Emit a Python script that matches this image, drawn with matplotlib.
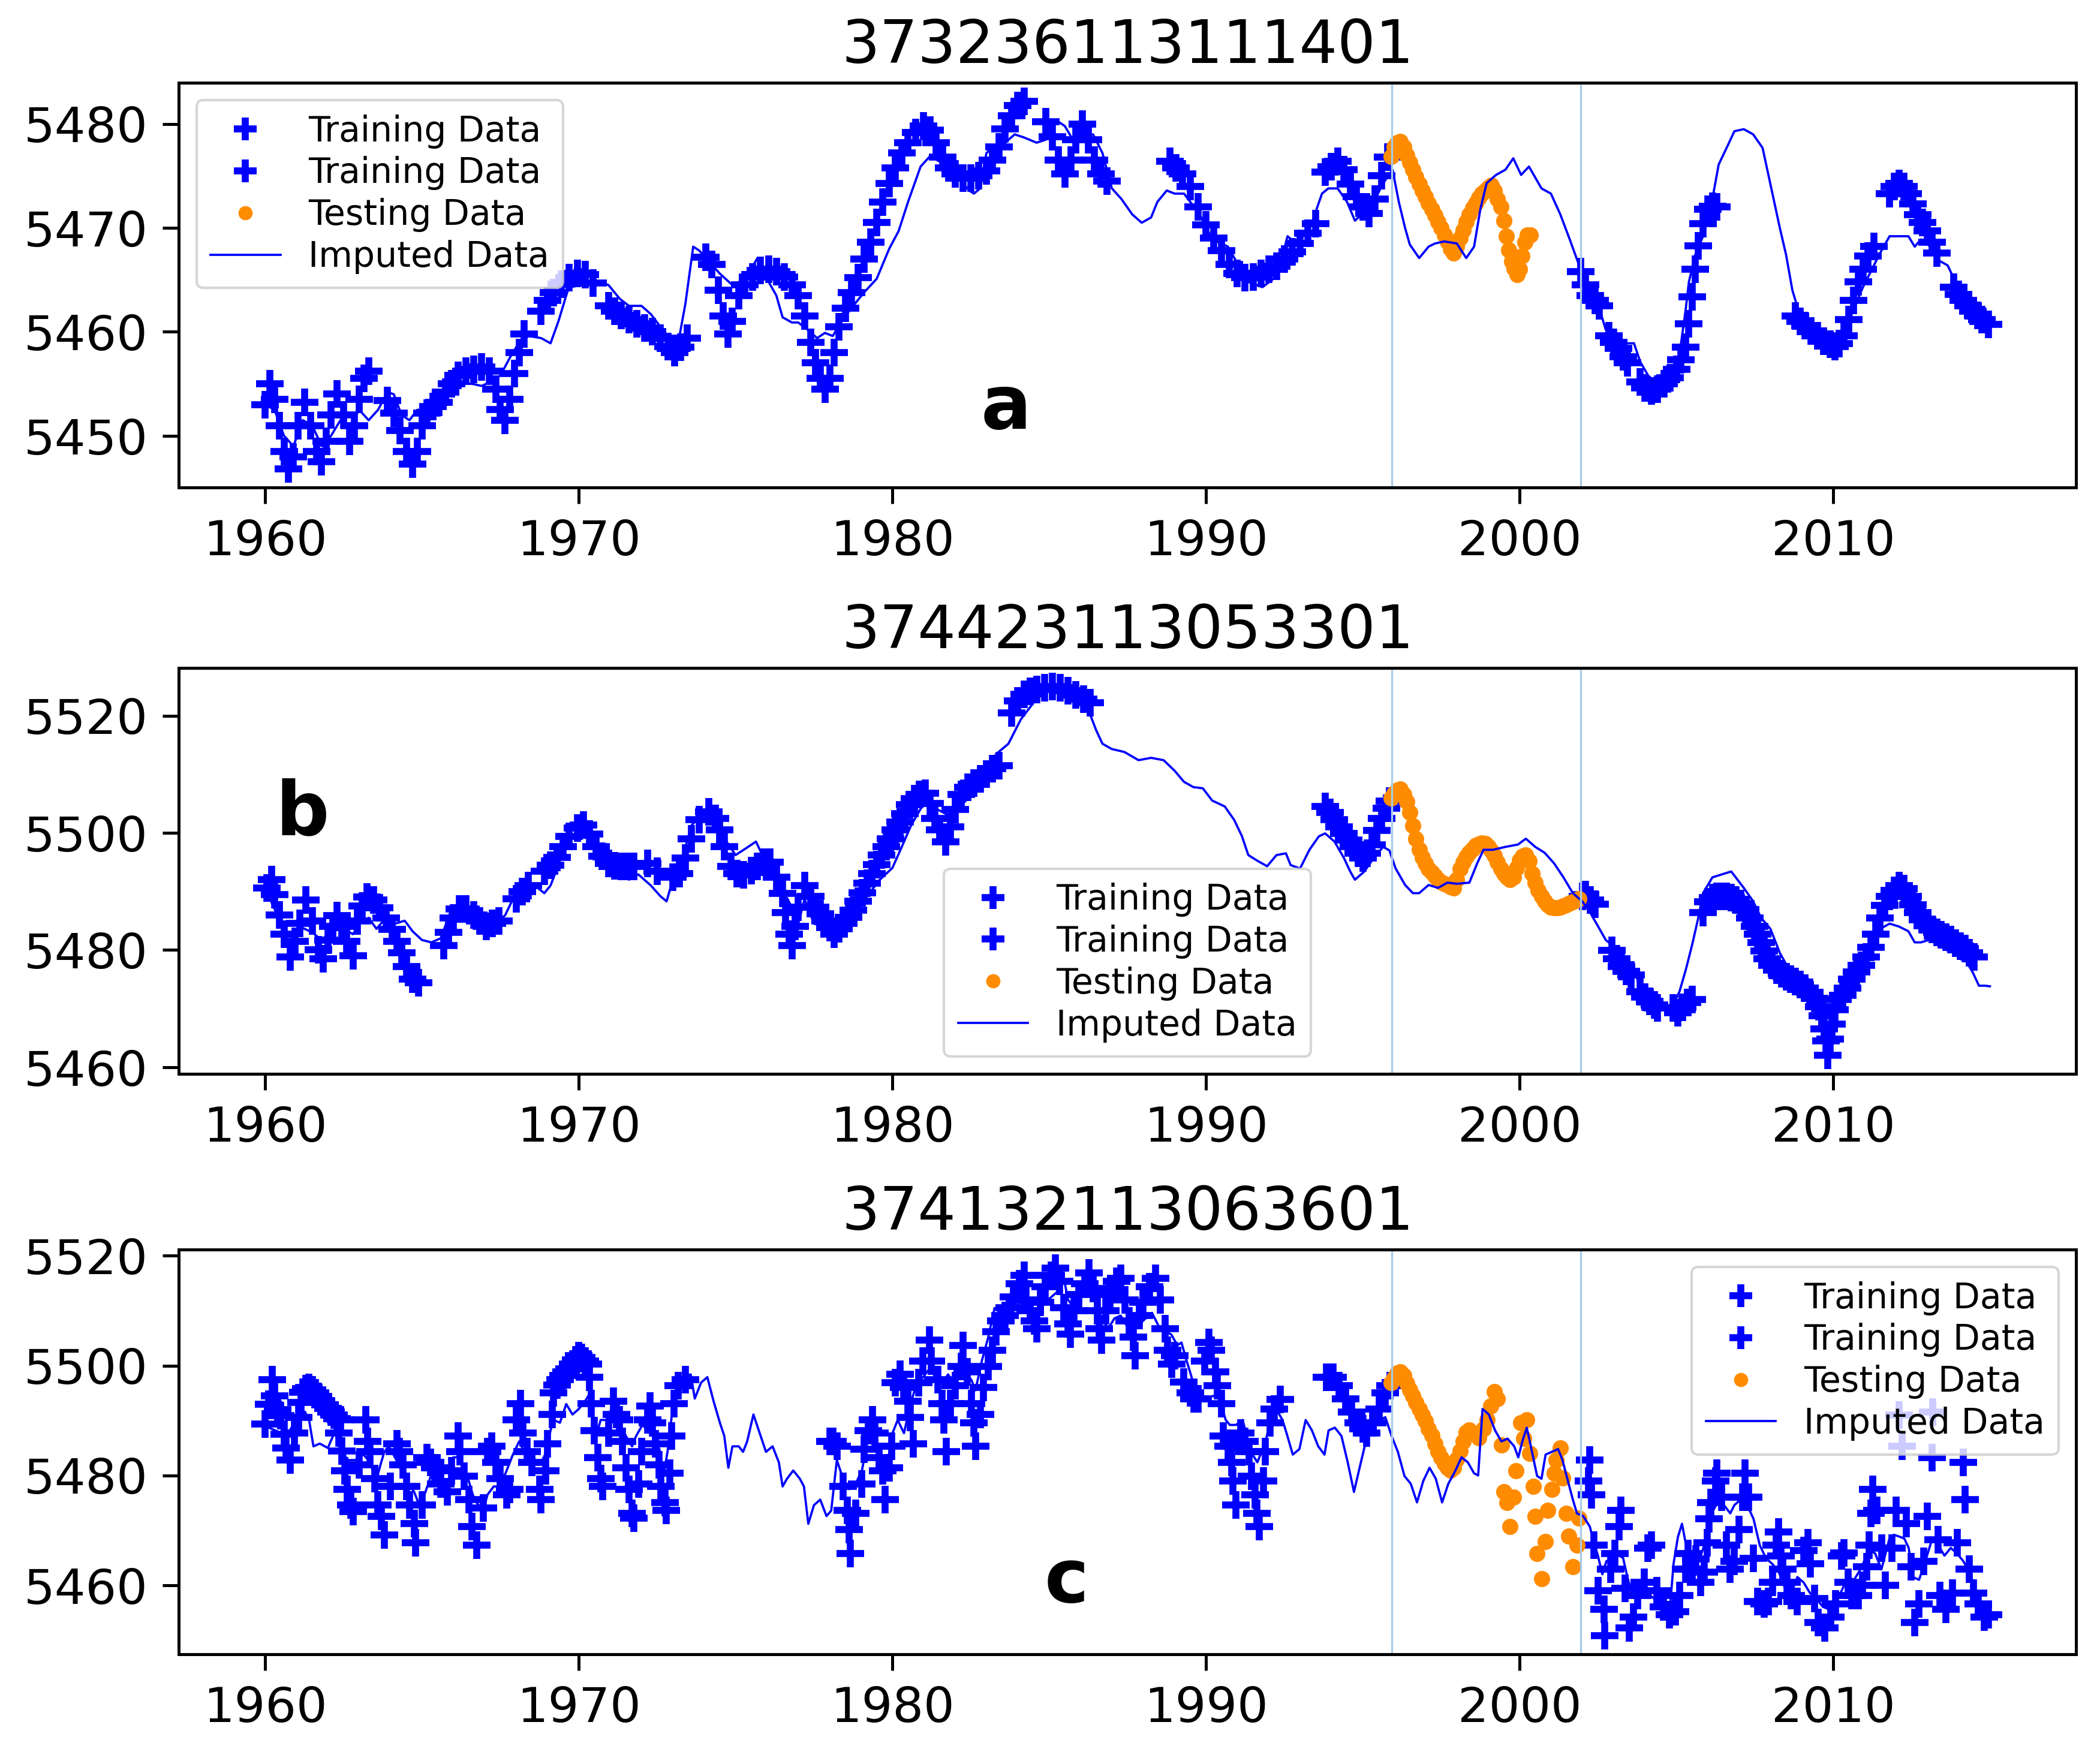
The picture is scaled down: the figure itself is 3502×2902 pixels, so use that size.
import matplotlib
matplotlib.use("Agg")
import matplotlib.pyplot as plt
from matplotlib.ticker import MultipleLocator

# ---------------- panel a : 373236113111401 ----------------
a_train1_t = [1960.0, 1960.15, 1960.3, 1960.45, 1960.6, 1960.75, 1960.9, 1961.05, 1961.25, 1961.45,
              1961.65, 1961.8, 1961.95, 1962.1, 1962.3, 1962.5, 1962.7, 1962.85, 1963.0, 1963.15,
              1963.3, 1963.9, 1964.1, 1964.3, 1964.5, 1964.7, 1964.85, 1965.0, 1965.15, 1965.35,
              1965.55, 1965.75, 1965.95, 1966.15, 1966.4, 1966.65, 1966.9, 1967.15, 1967.35, 1967.5,
              1967.65, 1967.8, 1967.95, 1968.1, 1968.25, 1968.8, 1969.0, 1969.2, 1969.45, 1969.7,
              1969.95, 1970.2, 1970.45, 1970.95, 1971.15, 1971.35, 1971.6, 1971.85, 1972.1, 1972.35,
              1972.6, 1972.85, 1973.05, 1973.25, 1973.45, 1974.05, 1974.25, 1974.45, 1974.6, 1974.75,
              1974.9, 1975.1, 1975.3, 1975.55, 1975.8, 1976.05, 1976.3, 1976.55, 1976.8, 1977.0,
              1977.2, 1977.4, 1977.55, 1977.7, 1977.85, 1978.0, 1978.15, 1978.3, 1978.5, 1978.7,
              1978.9, 1979.1, 1979.3, 1979.5, 1979.7, 1979.9, 1980.1, 1980.3, 1980.5, 1980.75,
              1981.0, 1981.2, 1981.4, 1981.6, 1981.8, 1982.0, 1982.25, 1982.5, 1982.75, 1983.0,
              1983.2, 1983.4, 1983.6, 1983.8, 1984.0, 1984.2, 1984.9, 1985.1, 1985.3, 1985.5,
              1985.7, 1985.85, 1986.05, 1986.25, 1986.45, 1986.65, 1986.85, 1988.85, 1989.05, 1989.25,
              1989.5, 1989.75, 1990.0, 1990.25, 1990.5, 1990.75, 1991.0, 1991.25, 1991.5, 1991.75,
              1992.0, 1992.25, 1992.5, 1992.75, 1993.0, 1993.25, 1993.5, 1993.8, 1994.0, 1994.2,
              1994.4, 1994.6, 1994.8, 1995.0, 1995.2, 1995.4, 1995.6, 1995.8]
a_train1_v = [5453, 5455, 5453.5, 5451, 5448.5, 5446.8, 5448, 5451, 5453.2, 5451,
              5448.5, 5447.5, 5449.5, 5452, 5454, 5452, 5449.5, 5451, 5453.5, 5455.5,
              5456.2, 5453.4, 5452.2, 5450.5, 5448.5, 5447.3, 5448.5, 5451, 5452.2, 5452.8,
              5453.2, 5454.2, 5455, 5455.8, 5456.2, 5456.4, 5456.6, 5456.2, 5454.5, 5452.5,
              5451.5, 5453.5, 5456, 5458, 5459.8, 5462, 5463, 5463.8, 5464.6, 5465.2,
              5465.6, 5465.5, 5464.7, 5462.5, 5462, 5461.6, 5461.2, 5460.8, 5460.4, 5460,
              5459.4, 5458.6, 5458, 5458.5, 5459.4, 5467.2, 5466.5, 5464, 5461.5, 5459.8,
              5461, 5463.5, 5464.5, 5465.3, 5465.9, 5466, 5465.8, 5465.3, 5464.5, 5463.5,
              5461.5, 5459, 5457, 5455.5, 5454.5, 5455.5, 5458, 5460.5, 5462.3, 5463.8,
              5465.2, 5467, 5468.6, 5470.5, 5472.5, 5474.3, 5475.8, 5477.2, 5478.2, 5479.2,
              5479.8, 5479.4, 5478.2, 5476.8, 5475.8, 5475.2, 5474.8, 5474.8, 5475, 5475.5,
              5476.5, 5477.8, 5479.5, 5480.8, 5481.8, 5482.2, 5480.2, 5478.8, 5476.5, 5475.2,
              5476.5, 5478.5, 5480, 5478.5, 5476.5, 5475.2, 5474.5, 5476.4, 5475.8, 5475.2,
              5474, 5472, 5470.3, 5469, 5467.8, 5466.5, 5465.6, 5465.2, 5465.3, 5465.6,
              5466, 5466.3, 5467, 5467.7, 5468.5, 5469.5, 5470.4, 5475.4, 5475.9, 5476.4,
              5475.6, 5474.2, 5473, 5472, 5471.4, 5472.8, 5475, 5476.8]
a_train2_t = [2001.95, 2002.1, 2002.25, 2002.4, 2002.55, 2002.85, 2003.0, 2003.15, 2003.3, 2003.45,
              2003.85, 2004.0, 2004.2, 2004.4, 2004.6, 2004.8, 2005.0, 2005.15, 2005.3, 2005.4,
              2005.5, 2005.6, 2005.7, 2005.85, 2006.0, 2006.15, 2006.3, 2008.8, 2008.95, 2009.1,
              2009.3, 2009.5, 2009.7, 2009.9, 2010.05, 2010.2, 2010.35, 2010.5, 2010.65, 2010.8,
              2010.95, 2011.1, 2011.3, 2011.8, 2011.95, 2012.1, 2012.25, 2012.4, 2012.55, 2012.7,
              2012.85, 2013.0, 2013.15, 2013.3, 2013.85, 2014.0, 2014.15, 2014.3, 2014.45, 2014.6,
              2014.75, 2014.95]
a_train2_v = [5465.8, 5464.5, 5463.5, 5463, 5462.5, 5459.6, 5459, 5458.4, 5457.6, 5457,
              5455.2, 5454.6, 5454.3, 5454.5, 5455, 5455.6, 5456.4, 5457.3, 5458.5, 5460.8,
              5463.4, 5466, 5468.3, 5470.4, 5471.8, 5472.1, 5472, 5461.5, 5461, 5460.6,
              5460.1, 5459.6, 5459.1, 5458.8, 5458.6, 5458.9, 5459.6, 5461.2, 5463, 5464.8,
              5466, 5467.3, 5468.2, 5473.3, 5474, 5474.3, 5474, 5473.3, 5472.3, 5471.3,
              5470.5, 5469.7, 5468.6, 5467.6, 5464.3, 5463.6, 5463, 5462.5, 5462, 5461.6,
              5461.2, 5460.7]
a_test_t = [1995.9, 1996.0, 1996.1, 1996.2, 1996.3, 1996.4, 1996.5, 1996.6, 1996.7, 1996.8,
            1996.9, 1997.0, 1997.1, 1997.2, 1997.3, 1997.4, 1997.5, 1997.6, 1997.7, 1997.8,
            1997.9, 1998.0, 1998.1, 1998.2, 1998.3, 1998.4, 1998.5, 1998.6, 1998.7, 1998.8,
            1998.9, 1999.0, 1999.1, 1999.2, 1999.3, 1999.4, 1999.5, 1999.58, 1999.66, 1999.75,
            1999.83, 1999.92, 2000.0, 2000.08, 2000.17, 2000.25, 2000.35]
a_test_v = [5476.9, 5477.8, 5478.2, 5478.3, 5477.8, 5477, 5476.3, 5475.6, 5474.9, 5474.2,
            5473.6, 5473, 5472.4, 5471.8, 5471.2, 5470.6, 5470, 5469.3, 5468.7, 5468,
            5467.6, 5468.2, 5469, 5469.8, 5470.6, 5471.3, 5471.9, 5472.4, 5472.9, 5473.3,
            5473.6, 5473.9, 5474.1, 5473.6, 5472.8, 5472, 5470.7, 5469.2, 5467.9, 5466.8,
            5466.1, 5465.5, 5466, 5467.3, 5468.6, 5469.3, 5469.3]
a_imp_t = [1960.0, 1960.3, 1960.6, 1960.9, 1961.2, 1961.5, 1961.8, 1962.1, 1962.4, 1962.7,
           1963.0, 1963.3, 1963.6, 1963.9, 1964.1, 1964.35, 1964.6, 1964.85, 1965.1, 1965.4,
           1965.7, 1966.0, 1966.3, 1966.6, 1966.9, 1967.2, 1967.5, 1967.8, 1968.1, 1968.4,
           1968.8, 1969.1, 1969.35, 1969.6, 1969.9, 1970.2, 1970.5, 1970.95, 1971.3, 1971.6,
           1972.0, 1972.3, 1972.6, 1972.9, 1973.2, 1973.4, 1973.65, 1973.85, 1974.2, 1974.5,
           1974.9, 1975.3, 1975.7, 1976.0, 1976.3, 1976.5, 1976.8, 1977.0, 1977.3, 1977.6,
           1977.85, 1978.1, 1978.35, 1978.75, 1979.1, 1979.5, 1979.9, 1980.2, 1980.5, 1980.9,
           1981.2, 1981.5, 1981.9, 1982.25, 1982.45, 1982.6, 1982.8, 1983.0, 1983.3, 1983.6,
           1983.9, 1984.2, 1984.6, 1984.9, 1985.25, 1985.5, 1985.85, 1986.1, 1986.4, 1986.7,
           1987.0, 1987.3, 1987.65, 1987.95, 1988.25, 1988.45, 1988.75, 1989.0, 1989.3, 1989.5,
           1989.8, 1990.2, 1990.7, 1991.0, 1991.35, 1991.8, 1992.15, 1992.45, 1992.6, 1992.8,
           1993.1, 1993.4, 1993.7, 1993.9, 1994.2, 1994.5, 1994.75, 1995.05, 1995.35, 1995.65,
           1995.95, 1996.15, 1996.35, 1996.5, 1996.8, 1997.1, 1997.3, 1997.6, 1998.0, 1998.3,
           1998.55, 1998.75, 1998.95, 1999.25, 1999.55, 1999.8, 2000.05, 2000.3, 2000.7, 2001.0,
           2001.3, 2001.6, 2001.9, 2002.25, 2002.55, 2002.75, 2003.05, 2003.35, 2003.65, 2003.85,
           2004.1, 2004.4, 2004.8, 2005.1, 2005.3, 2005.4, 2005.6, 2005.85, 2006.15, 2006.35,
           2006.65, 2006.85, 2007.15, 2007.45, 2007.75, 2007.9, 2008.1, 2008.3, 2008.5, 2008.7,
           2008.9, 2009.3, 2009.65, 2010.05, 2010.35, 2010.65, 2010.95, 2011.25, 2011.5, 2011.8,
           2012.1, 2012.4, 2012.6, 2012.8, 2013.1, 2013.35, 2013.65, 2013.95, 2014.25, 2014.55,
           2014.85, 2015.0]
a_imp_v = [5453, 5452.5, 5450, 5449, 5451.5, 5451, 5449, 5450, 5451.5, 5451,
           5452.5, 5451.5, 5452.5, 5454.2, 5454, 5452, 5451.5, 5452.5, 5452.5, 5453,
           5453.8, 5454.5, 5455, 5455, 5454.8, 5455.2, 5455.8, 5457.5, 5459, 5459.6,
           5459.4, 5458.9, 5461, 5463.5, 5466.3, 5465.8, 5465, 5464.5, 5463.2, 5462.5,
           5462.5, 5461.7, 5460.5, 5459.4, 5459.4, 5462.7, 5468.2, 5467.8, 5466.6, 5465.6,
           5464.5, 5465.1, 5467.1, 5465.1, 5463.5, 5461.4, 5460.9, 5460.9, 5460.2, 5459.4,
           5459.9, 5459.6, 5460.9, 5462.5, 5463.8, 5465.1, 5468, 5469.7, 5472.5, 5475.9,
           5476.9, 5476.4, 5475.6, 5474.3, 5473.6, 5473.3, 5473.8, 5477.2, 5478, 5478.2,
           5479, 5478.7, 5478.2, 5478.5, 5480.3, 5479.8, 5478, 5478.8, 5479, 5477.2,
           5473.8, 5472.8, 5471.3, 5470.5, 5471, 5472.5, 5473.6, 5473.3, 5473.3, 5472.5,
           5471.3, 5468.9, 5468.2, 5466.6, 5464.8, 5464.3, 5465.1, 5467.4, 5469.2, 5468.7,
           5469.2, 5470.7, 5473.3, 5473.8, 5473.8, 5472.5, 5470.7, 5471.5, 5472.5, 5474.3,
           5475.6, 5472.5, 5470, 5468.4, 5467.1, 5468.2, 5468.5, 5468.7, 5468.5, 5467.1,
           5468.2, 5471.8, 5474.3, 5475.1, 5475.6, 5476.7, 5475.1, 5475.9, 5473.8, 5473.3,
           5471.3, 5468.9, 5466.4, 5464, 5462.2, 5460.2, 5459.6, 5458.9, 5458.9, 5457.1,
           5455.8, 5455, 5455.5, 5457.8, 5462.2, 5464.8, 5467.4, 5469.2, 5472.8, 5476.1,
           5478, 5479.3, 5479.5, 5479, 5477.7, 5475.6, 5472.8, 5470, 5467.4, 5464,
           5462, 5460.4, 5459.4, 5458.6, 5459.6, 5462.2, 5464.3, 5466.1, 5467.6, 5469.2,
           5469.2, 5469.2, 5468.2, 5468.9, 5468.2, 5466.9, 5466.4, 5464.5, 5462.7, 5461.7,
           5460.9, 5460.6]

# ---------------- panel b : 374423113053301 ----------------
b_train1_t = [1960.05, 1960.2, 1960.3, 1960.45, 1960.6, 1960.8, 1960.95, 1961.1, 1961.3, 1961.5,
              1961.7, 1961.85, 1962.0, 1962.15, 1962.3, 1962.45, 1962.6, 1962.8, 1962.95, 1963.1,
              1963.25, 1963.45, 1963.65, 1963.85, 1964.05, 1964.2, 1964.35, 1964.5, 1964.7, 1964.9,
              1965.7, 1965.85, 1966.0, 1966.2, 1966.4, 1966.65, 1966.85, 1967.05, 1967.25, 1967.45,
              1968.0, 1968.2, 1968.4, 1968.9, 1969.1, 1969.3, 1969.5, 1969.7, 1969.95, 1970.15,
              1970.35, 1970.55, 1970.75, 1970.95, 1971.15, 1971.35, 1971.55, 1971.75, 1972.2, 1972.5,
              1973.0, 1973.2, 1973.4, 1973.6, 1973.85, 1974.15, 1974.35, 1974.5, 1974.65, 1974.85,
              1975.05, 1975.25, 1975.5, 1975.7, 1975.9, 1976.1, 1976.3, 1976.5, 1976.6, 1976.7,
              1976.8, 1976.9, 1977.0, 1977.2, 1977.4, 1977.55, 1977.7, 1977.85, 1978.0, 1978.15,
              1978.3, 1978.45, 1978.6, 1978.75, 1978.9, 1979.05, 1979.2, 1979.35, 1979.5, 1979.65,
              1979.8, 1979.95, 1980.1, 1980.25, 1980.4, 1980.55, 1980.7, 1980.85, 1981.05, 1981.2,
              1981.35, 1981.5, 1981.7, 1981.85, 1982.0, 1982.2, 1982.4, 1982.6, 1982.8, 1983.0,
              1983.2, 1983.4, 1983.8, 1984.0, 1984.2, 1984.4, 1984.6, 1984.85, 1985.1, 1985.35,
              1985.6, 1985.85, 1986.1, 1986.3, 1993.8, 1993.95, 1994.1, 1994.25, 1994.4, 1994.55,
              1994.7, 1994.85, 1995.0, 1995.15, 1995.3, 1995.45, 1995.6, 1995.75, 1995.85]
b_train1_v = [5490.6, 5492, 5489.5, 5486, 5482.7, 5478.8, 5481.5, 5484.5, 5488.5, 5485,
              5480, 5478.5, 5481.7, 5484, 5485.9, 5484, 5481.5, 5479, 5485, 5487.5,
              5489, 5488.5, 5487.2, 5485.5, 5483.5, 5481.5, 5479.5, 5477.2, 5475, 5474.4,
              5480.8, 5483, 5485.5, 5487, 5487, 5486, 5485, 5484, 5484.5, 5485,
              5488.7, 5490, 5491, 5493.4, 5494.5, 5495.8, 5497.6, 5499.4, 5500.8, 5501.3,
              5499.8, 5497.6, 5496, 5494.8, 5494.4, 5494.3, 5494.3, 5494.3, 5494.8, 5493.4,
              5492.4, 5493, 5495.7, 5499, 5502.2, 5503.6, 5502.5, 5500.5, 5497.6, 5494.3,
              5493, 5492.8, 5493.5, 5494.3, 5495, 5495, 5492.4, 5489.7, 5486.4, 5482.7,
              5480.8, 5484, 5487.3, 5491, 5489.2, 5487.3, 5486.2, 5485, 5483.8, 5482.7,
              5483.6, 5484.5, 5485.6, 5486.8, 5488.3, 5489.8, 5491.4, 5493, 5494.6, 5496.2,
              5497.6, 5499, 5500.5, 5501.8, 5503.3, 5504.8, 5505.8, 5506.5, 5506.8, 5505,
              5502.5, 5500.5, 5498.5, 5501, 5504, 5506.5, 5507.8, 5508.5, 5509.2, 5510,
              5511, 5511.5, 5520.5, 5522.5, 5523.6, 5524.2, 5524.5, 5524.8, 5525, 5524.8,
              5524.3, 5523.5, 5522.8, 5522.2, 5504.5, 5503.5, 5502.2, 5501, 5499.9, 5498.8,
              5497.6, 5496.5, 5495.7, 5496.5, 5498, 5500.4, 5502.5, 5504.2, 5505.4]
b_train2_t = [2002.0, 2002.1, 2002.25, 2002.4, 2002.95, 2003.1, 2003.25, 2003.4, 2003.55, 2003.85,
              2004.0, 2004.15, 2004.3, 2004.4, 2004.9, 2005.05, 2005.2, 2005.35, 2005.5, 2005.85,
              2006.0, 2006.15, 2006.3, 2006.45, 2006.6, 2006.75, 2006.9, 2007.05, 2007.2, 2007.35,
              2007.5, 2007.6, 2007.7, 2007.8, 2007.9, 2008.05, 2008.2, 2008.35, 2008.5, 2008.65,
              2008.8, 2008.95, 2009.1, 2009.25, 2009.4, 2009.55, 2009.65, 2009.72, 2009.78, 2009.82,
              2009.9, 2009.97, 2010.05, 2010.15, 2010.3, 2010.45, 2010.6, 2010.75, 2010.9, 2011.05,
              2011.2, 2011.35, 2011.5, 2011.65, 2011.8, 2011.95, 2012.1, 2012.25, 2012.4, 2012.55,
              2012.7, 2012.85, 2013.0, 2013.15, 2013.3, 2013.45, 2013.6, 2013.75, 2013.9, 2014.05,
              2014.2, 2014.35, 2014.5]
b_train2_v = [5489.2, 5489.5, 5488.5, 5487.8, 5479.9, 5478.5, 5477.2, 5476.4, 5475.7, 5472.9,
              5472, 5471.2, 5470.6, 5470.1, 5470.1, 5469.3, 5470.2, 5471, 5471.5, 5486.4,
              5488.2, 5488.9, 5489.1, 5489.2, 5489.1, 5488.9, 5488.5, 5487.9, 5486.9, 5485.5,
              5484, 5482.7, 5481.3, 5479.8, 5478.5, 5477.4, 5476.6, 5475.9, 5475.4, 5475,
              5474.6, 5474.1, 5473.5, 5472.8, 5471.8, 5470.3, 5468.8, 5466.5, 5464.5, 5462,
              5464.8, 5467.4, 5469.8, 5471.5, 5472.3, 5473.5, 5475, 5476.3, 5477.4, 5478.8,
              5480.5, 5482.7, 5485.5, 5487.6, 5489.2, 5490.2, 5491, 5490.5, 5489.2, 5487.7,
              5486.4, 5485.2, 5484.1, 5483.5, 5483, 5482.6, 5482.2, 5481.8, 5481.2, 5480.7,
              5480.2, 5479.5, 5478.8]
b_test_t = [1995.9, 1996.0, 1996.1, 1996.2, 1996.3, 1996.4, 1996.5, 1996.6, 1996.7, 1996.8,
            1996.9, 1997.0, 1997.1, 1997.2, 1997.3, 1997.4, 1997.5, 1997.6, 1997.7, 1997.8,
            1997.9, 1998.0, 1998.1, 1998.2, 1998.3, 1998.4, 1998.5, 1998.6, 1998.7, 1998.8,
            1998.9, 1999.0, 1999.1, 1999.2, 1999.3, 1999.4, 1999.5, 1999.6, 1999.7, 1999.8,
            1999.9, 2000.0, 2000.1, 2000.2, 2000.3, 2000.4, 2000.5, 2000.6, 2000.7, 2000.8,
            2000.9, 2001.0, 2001.1, 2001.2, 2001.3, 2001.4, 2001.5, 2001.6, 2001.7, 2001.8,
            2001.9]
b_test_v = [5505.9, 5506.8, 5507.3, 5507.5, 5506.6, 5505.3, 5503.5, 5501.2, 5499, 5497.1,
            5495.8, 5494.8, 5493.9, 5493.2, 5492.6, 5492, 5491.6, 5491.3, 5491.1, 5490.8,
            5490.6, 5492, 5493.9, 5495, 5495.9, 5496.6, 5497.2, 5497.8, 5498.1, 5498.3,
            5498.2, 5497.6, 5496.9, 5496.1, 5495, 5493.9, 5493, 5492.4, 5492, 5492.4,
            5494, 5495.3, 5496, 5496.2, 5495.2, 5493, 5491.5, 5490.2, 5489.2, 5488.3,
            5487.7, 5487.3, 5487.2, 5487.2, 5487.3, 5487.5, 5487.7, 5488, 5488.2, 5488.5,
            5488.7]
b_imp_t = [1960.0, 1960.3, 1960.5, 1960.8, 1961.1, 1961.5, 1961.8, 1962.1, 1962.5, 1962.8,
           1963.0, 1963.3, 1963.55, 1963.85, 1964.15, 1964.45, 1964.7, 1965.0, 1965.3, 1965.6,
           1965.9, 1966.2, 1966.5, 1966.9, 1967.3, 1967.65, 1967.9, 1968.3, 1968.6, 1968.9,
           1969.1, 1969.5, 1969.95, 1970.3, 1970.7, 1971.1, 1971.6, 1971.9, 1972.3, 1972.6,
           1972.8, 1973.0, 1973.3, 1973.6, 1973.9, 1974.3, 1974.65, 1975.0, 1975.4, 1975.65,
           1975.9, 1976.2, 1976.5, 1976.8, 1977.0, 1977.2, 1977.5, 1977.8, 1978.1, 1978.45,
           1978.85, 1979.2, 1979.6, 1980.0, 1980.3, 1980.6, 1981.0, 1981.4, 1981.75, 1982.1,
           1982.5, 1982.9, 1983.3, 1983.7, 1984.1, 1984.5, 1984.85, 1985.25, 1985.6, 1986.0,
           1986.3, 1986.5, 1986.7, 1987.0, 1987.4, 1987.85, 1988.25, 1988.65, 1989.0, 1989.3,
           1989.6, 1989.9, 1990.2, 1990.6, 1990.9, 1991.15, 1991.35, 1991.65, 1991.95, 1992.25,
           1992.55, 1992.7, 1993.0, 1993.3, 1993.6, 1993.8, 1994.1, 1994.4, 1994.6, 1994.75,
           1995.05, 1995.35, 1995.65, 1995.85, 1996.05, 1996.35, 1996.6, 1996.8, 1997.1, 1997.4,
           1997.7, 1998.0, 1998.4, 1998.65, 1998.85, 1999.15, 1999.55, 1999.95, 2000.2, 2000.5,
           2000.8, 2001.1, 2001.4, 2001.7, 2002.0, 2002.25, 2002.55, 2002.75, 2003.05, 2003.35,
           2003.65, 2003.9, 2004.2, 2004.5, 2004.9, 2005.1, 2005.3, 2005.5, 2005.7, 2005.85,
           2006.15, 2006.45, 2006.75, 2006.95, 2007.15, 2007.45, 2007.7, 2008.0, 2008.3, 2008.6,
           2008.9, 2009.2, 2009.5, 2009.8, 2010.05, 2010.35, 2010.65, 2010.95, 2011.25, 2011.5,
           2011.8, 2012.1, 2012.4, 2012.6, 2012.8, 2013.1, 2013.35, 2013.65, 2013.95, 2014.25,
           2014.45, 2014.65, 2014.85, 2015.0]
b_imp_v = [5490.5, 5487, 5484.5, 5484.5, 5484, 5483, 5481.7, 5483.2, 5483.6, 5482.7,
           5484.5, 5485.5, 5483.6, 5485.5, 5484.5, 5485, 5483.2, 5481.7, 5481.3, 5482,
           5486.4, 5487.3, 5485.9, 5485, 5484.5, 5485.9, 5488.7, 5490.6, 5491, 5489.7,
           5491, 5496.6, 5500.4, 5499.4, 5496.6, 5493.9, 5492, 5492.9, 5491, 5489.2,
           5488.3, 5492, 5495.7, 5501.3, 5503.1, 5502.2, 5499, 5496.2, 5497.6, 5498.5,
           5495.7, 5492.9, 5490.2, 5487.3, 5484.5, 5488.7, 5484.5, 5484, 5484.5, 5485.5,
           5487.3, 5489.2, 5492, 5494, 5497.6, 5501.3, 5505, 5504.1, 5503.1, 5504.1,
           5506.4, 5508.2, 5513.4, 5515.2, 5519.4, 5522.2, 5524, 5524.5, 5524, 5522.8,
           5520.3, 5517.5, 5515.2, 5514.3, 5513.8, 5512.4, 5512.8, 5512.4, 5510.6, 5508.7,
           5507.8, 5507.6, 5505.5, 5504.5, 5502.2, 5499.4, 5496.2, 5495.2, 5494.3, 5496.2,
           5496.5, 5494.5, 5493.9, 5497.1, 5499.4, 5499.9, 5498.5, 5495.7, 5493.4, 5492,
           5493.4, 5495.7, 5497.6, 5497, 5493.9, 5491.1, 5489.7, 5489.7, 5491.1, 5490.6,
           5491.5, 5491.3, 5491.5, 5494.8, 5497.1, 5497.1, 5497.6, 5498, 5499, 5497.6,
           5496.6, 5494.8, 5492.4, 5489.7, 5488.3, 5486.4, 5483.6, 5481.7, 5480.4, 5478,
           5476.2, 5473.4, 5471.5, 5470.1, 5470.6, 5472.9, 5476.6, 5480.8, 5485.5, 5489.7,
           5492.4, 5492.9, 5493.4, 5492, 5490.6, 5488.3, 5485.5, 5483.6, 5479.5, 5476.6,
           5474.8, 5473.4, 5472, 5470.1, 5470.6, 5473.4, 5475.7, 5478, 5481.3, 5483.6,
           5484.5, 5484, 5483.2, 5481.3, 5481.3, 5481.8, 5480.8, 5479.9, 5479.6, 5478,
           5476.2, 5473.9, 5473.9, 5473.8]

# ---------------- panel c : 374132113063601 ----------------
c_train1_t = [1960.0, 1960.12, 1960.23, 1960.3, 1960.4, 1960.5, 1960.6, 1960.67, 1960.8, 1960.94,
              1961.07, 1961.14, 1961.2, 1961.3, 1961.4, 1961.5, 1961.6, 1961.7, 1961.8, 1961.9,
              1962.0, 1962.1, 1962.2, 1962.3, 1962.4, 1962.34, 1962.45, 1962.54, 1962.62, 1962.74,
              1962.8, 1963.0, 1963.2, 1963.27, 1963.35, 1963.5, 1963.6, 1963.7, 1963.8, 1964.0,
              1964.2, 1964.27, 1964.4, 1964.5, 1964.6, 1964.75, 1964.8, 1965.0, 1965.15, 1965.28,
              1965.4, 1965.6, 1965.8, 1965.95, 1966.15, 1966.22, 1966.35, 1966.5, 1966.6, 1966.75,
              1966.95, 1967.1, 1967.22, 1967.35, 1967.5, 1967.7, 1967.8, 1968.0, 1968.15, 1968.22,
              1968.35, 1968.5, 1968.75, 1968.8, 1968.95, 1969.0, 1969.15, 1969.2, 1969.3, 1969.4,
              1969.5, 1969.6, 1969.7, 1969.8, 1969.9, 1970.0, 1970.1, 1970.2, 1970.3, 1970.35,
              1970.4, 1970.5, 1970.6, 1970.7, 1970.76, 1970.95, 1971.1, 1971.2, 1971.3, 1971.4,
              1971.5, 1971.6, 1971.7, 1971.76, 1971.9, 1972.0, 1972.2, 1972.27, 1972.35, 1972.45,
              1972.55, 1972.62, 1972.75, 1972.78, 1972.9, 1972.97, 1973.03, 1973.17, 1973.4, 1978.0,
              1978.1, 1978.23, 1978.43, 1978.57, 1978.63, 1978.66, 1978.83, 1979.03, 1979.1, 1979.24,
              1979.37, 1979.45, 1979.57, 1979.7, 1979.77, 1979.9, 1979.97, 1980.1, 1980.24, 1980.37,
              1980.5, 1980.58, 1980.67, 1980.84, 1980.98, 1981.18, 1981.25, 1981.45, 1981.58, 1981.65,
              1981.72, 1981.85, 1982.0, 1982.2, 1982.25, 1982.38, 1982.52, 1982.6, 1982.65, 1982.8,
              1982.9, 1983.06, 1983.2, 1983.3, 1983.45, 1983.6, 1983.73, 1983.86, 1984.06, 1984.2,
              1984.27, 1984.4, 1984.53, 1984.6, 1984.73, 1984.87, 1985.07, 1985.2, 1985.34, 1985.47,
              1985.6, 1985.67, 1985.8, 1985.94, 1986.14, 1986.27, 1986.4, 1986.54, 1986.6, 1986.67,
              1986.8, 1986.94, 1987.14, 1987.28, 1987.41, 1987.55, 1987.68, 1987.75, 1987.88, 1988.0,
              1988.2, 1988.4, 1988.55, 1988.7, 1988.77, 1988.9, 1989.0, 1989.3, 1989.5, 1989.62,
              1989.75, 1989.96, 1990.1, 1990.17, 1990.3, 1990.37, 1990.5, 1990.56, 1990.7, 1990.83,
              1990.85, 1990.96, 1991.1, 1991.24, 1991.37, 1991.45, 1991.57, 1991.63, 1991.7, 1991.84,
              1991.9, 1992.04, 1992.17, 1992.37, 1993.85, 1994.05, 1994.25, 1994.45, 1994.65, 1994.85,
              1995.0, 1995.12, 1995.32, 1995.52, 1995.72, 1995.86]
c_train1_v = [5489.4, 5493, 5497.4, 5494.5, 5492, 5490.9, 5487.5, 5485, 5482.8, 5487.7,
              5490.6, 5493.3, 5495.2, 5495.8, 5496, 5495.6, 5495, 5494.4, 5493.6, 5492.9,
              5492.2, 5491.6, 5491, 5490.4, 5490.1, 5487.7, 5484.5, 5480.9, 5477.5, 5474.6,
              5473.4, 5481.9, 5490.1, 5486.2, 5484.3, 5479.4, 5474.6, 5472.6, 5469.2, 5478,
              5485.8, 5484.3, 5481.9, 5478, 5474.6, 5471.2, 5467.8, 5474.6, 5483.3, 5482.4,
              5481.4, 5478.5, 5477, 5480.9, 5487.2, 5484.3, 5479.9, 5475.6, 5470.7, 5467.3,
              5474.1, 5484.3, 5485.3, 5482.4, 5479.4, 5476.5, 5477.5, 5490.1, 5493.1, 5487.7,
              5484.3, 5482.4, 5477.5, 5475.6, 5480.9, 5485.8, 5491.1, 5495, 5496.5, 5497.4,
              5498.2, 5498.9, 5499.4, 5500.3, 5501, 5501.8, 5501.5, 5500.8, 5500.3, 5497.9,
              5493.1, 5488.2, 5483.3, 5479.4, 5478, 5487.7, 5493.5, 5491.1, 5490.1, 5486.2,
              5481.4, 5477.5, 5473.1, 5472.2, 5478.5, 5484.3, 5490.1, 5492.6, 5489.6, 5485.8,
              5481.9, 5478, 5475.1, 5473.6, 5480.4, 5487.2, 5493.1, 5496.4, 5497.4, 5486.2,
              5486.2, 5485.3, 5478, 5473.6, 5470.2, 5465.8, 5473.1, 5478.5, 5484.8, 5488.2,
              5490.1, 5487.7, 5483.3, 5480.9, 5475.6, 5481.4, 5485.3, 5496.9, 5498.4, 5496,
              5493.5, 5490.6, 5485.8, 5496.9, 5500.8, 5504.7, 5500.8, 5497.4, 5493.1, 5490.1,
              5484.3, 5493.1, 5496.4, 5499.9, 5503.7, 5498.9, 5493.1, 5489.6, 5485.3, 5491.1,
              5496, 5499.9, 5502.8, 5506.2, 5508.1, 5509.1, 5510.5, 5512.5, 5514.9, 5516.4,
              5512, 5510, 5508.1, 5506.7, 5511.5, 5514.4, 5516.4, 5517.8, 5515.4, 5510.5,
              5507.6, 5505.7, 5510, 5512.9, 5514.9, 5516.9, 5514, 5510, 5506.7, 5504.7,
              5510, 5512.9, 5515.4, 5515.9, 5512, 5508.1, 5505.2, 5501.8, 5509.1, 5511.5,
              5514.4, 5515.9, 5512, 5506.7, 5502.8, 5500.3, 5501.8, 5497, 5495, 5494,
              5494, 5500.8, 5504.2, 5502.8, 5498.9, 5496.4, 5493.1, 5487.2, 5485.3, 5482.4,
              5479, 5474.6, 5487.7, 5486.2, 5484.3, 5479.9, 5476.5, 5473.1, 5470.7, 5479,
              5484.3, 5489.6, 5492.1, 5493.8, 5497.9, 5497.9, 5496.4, 5494, 5491.6, 5489.6,
              5488.5, 5487.7, 5489.6, 5492.1, 5495, 5496.4]
c_train2_t = [2002.24, 2002.2, 2002.3, 2002.37, 2002.5, 2002.7, 2002.72, 2002.9, 2003.04, 2003.17,
              2003.24, 2003.37, 2003.5, 2003.64, 2003.77, 2003.98, 2004.1, 2004.2, 2004.38, 2004.58,
              2004.78, 2004.98, 2005.1, 2005.3, 2005.37, 2005.5, 2005.63, 2005.78, 2005.88, 2005.98,
              2006.04, 2006.1, 2006.25, 2006.3, 2006.45, 2006.6, 2006.72, 2006.85, 2006.99, 2007.12,
              2007.19, 2007.3, 2007.46, 2007.6, 2007.8, 2007.93, 2008.06, 2008.19, 2008.26, 2008.33,
              2008.4, 2008.53, 2008.66, 2008.86, 2009.06, 2009.2, 2009.27, 2009.4, 2009.53, 2009.73,
              2009.93, 2010.07, 2010.27, 2010.34, 2010.47, 2010.6, 2010.8, 2010.94, 2011.07, 2011.14,
              2011.27, 2011.2, 2011.4, 2011.54, 2011.67, 2011.87, 2012.0, 2012.1, 2012.2, 2012.34,
              2012.48, 2012.61, 2012.74, 2012.88, 2013.01, 2013.15, 2013.17, 2013.35, 2013.4, 2013.6,
              2013.8, 2013.95, 2014.15, 2014.2, 2014.35, 2014.48, 2014.62, 2014.82, 2014.95]
c_train2_v = [5482.8, 5479, 5476.5, 5467.3, 5459, 5455.6, 5450.8, 5462.9, 5465.8, 5470.7,
              5473.6, 5459.5, 5452.2, 5454.2, 5458.1, 5460.5, 5466.8, 5467.3, 5459, 5456.1,
              5454.7, 5455.2, 5458.1, 5462.9, 5465.8, 5462.9, 5464.8, 5460.5, 5462.4, 5467.8,
              5472.1, 5475.1, 5479, 5480.4, 5476, 5467.3, 5462.9, 5464.4, 5470.2, 5476,
              5480.4, 5476, 5464.9, 5457.1, 5456.6, 5457.1, 5460.5, 5467.3, 5469.7, 5465.4,
              5462.9, 5460.5, 5458.1, 5457.1, 5466.3, 5467.8, 5463.9, 5457.6, 5453.2, 5452.2,
              5454.2, 5456.6, 5465.4, 5465.9, 5460.5, 5458.1, 5458.1, 5460, 5463.4, 5467.3,
              5477.5, 5473.1, 5473.6, 5466.8, 5460, 5466.8, 5473.6, 5491, 5485.3, 5471.2,
              5463.4, 5453.2, 5456.6, 5464.4, 5472.6, 5483.3, 5491.6, 5468.3, 5458.1, 5455.6,
              5458.6, 5467.8, 5482.4, 5475.6, 5462.9, 5458.6, 5456.6, 5454.2, 5454.7]
c_test_t = [1995.9, 1996.0, 1996.1, 1996.2, 1996.3, 1996.4, 1996.5, 1996.6, 1996.7, 1996.8,
            1996.9, 1997.0, 1997.1, 1997.2, 1997.3, 1997.4, 1997.5, 1997.6, 1997.7, 1997.8,
            1997.9, 1998.0, 1998.1, 1998.2, 1998.3, 1998.4, 1998.55, 1998.7, 1998.85, 1998.96,
            1999.09, 1999.2, 1999.3, 1999.42, 1999.5, 1999.6, 1999.69, 1999.8, 1999.89, 2000.03,
            2000.13, 2000.23, 2000.33, 2000.43, 2000.5, 2000.56, 2000.7, 2000.83, 2000.9, 2001.03,
            2001.1, 2001.16, 2001.3, 2001.38, 2001.5, 2001.57, 2001.7, 2001.83, 2001.9]
c_test_v = [5496.9, 5497.8, 5498.6, 5498.9, 5498.2, 5496.8, 5495.6, 5494.5, 5493.3, 5492.1,
            5491, 5489.9, 5488.5, 5487.3, 5485.8, 5484.3, 5483.2, 5482.2, 5481.4, 5481,
            5481.4, 5482.9, 5484.5, 5486.2, 5487.8, 5488.3, 5487.6, 5486.8, 5488.5, 5490.1,
            5492.6, 5495.3, 5494, 5485.5, 5477, 5475.1, 5470.7, 5476, 5480.9, 5489.6,
            5486.7, 5490.1, 5484, 5478, 5472.6, 5465.8, 5461.2, 5468, 5473.6, 5477.5,
            5480.4, 5482.8, 5485, 5479.5, 5473.1, 5469, 5463.4, 5467.3, 5472.2]
c_imp_t = [1960.0, 1960.4, 1960.67, 1961.0, 1961.27, 1961.4, 1961.54, 1961.74, 1962.0, 1962.2,
           1962.4, 1962.6, 1962.87, 1963.14, 1963.34, 1963.54, 1963.67, 1963.8, 1963.94, 1964.14,
           1964.34, 1964.55, 1964.75, 1964.88, 1965.0, 1965.2, 1965.4, 1965.6, 1965.8, 1966.0,
           1966.2, 1966.42, 1966.62, 1966.75, 1966.95, 1967.09, 1967.29, 1967.49, 1967.7, 1967.9,
           1968.1, 1968.22, 1968.42, 1968.62, 1968.82, 1968.96, 1969.1, 1969.2, 1969.4, 1969.6,
           1969.8, 1970.0, 1970.2, 1970.36, 1970.5, 1970.7, 1970.9, 1971.1, 1971.3, 1971.5,
           1971.7, 1971.83, 1972.03, 1972.2, 1972.37, 1972.57, 1972.7, 1972.83, 1972.97, 1973.17,
           1973.37, 1973.57, 1973.7, 1973.9, 1974.1, 1974.3, 1974.5, 1974.64, 1974.77, 1974.9,
           1975.1, 1975.24, 1975.37, 1975.57, 1975.77, 1975.97, 1976.18, 1976.38, 1976.5, 1976.64,
           1976.84, 1977.05, 1977.18, 1977.32, 1977.5, 1977.7, 1977.9, 1978.05, 1978.23, 1978.43,
           1978.63, 1978.83, 1979.03, 1979.24, 1979.44, 1979.64, 1979.84, 1979.97, 1980.17, 1980.37,
           1980.58, 1980.78, 1980.98, 1981.18, 1981.38, 1981.58, 1981.78, 1981.98, 1982.18, 1982.38,
           1982.52, 1982.65, 1982.85, 1983.06, 1983.26, 1983.46, 1983.66, 1983.86, 1984.06, 1984.26,
           1984.46, 1984.66, 1984.87, 1985.07, 1985.27, 1985.47, 1985.6, 1985.8, 1986.0, 1986.2,
           1986.4, 1986.54, 1986.74, 1986.88, 1987.08, 1987.28, 1987.48, 1987.68, 1987.88, 1988.08,
           1988.28, 1988.49, 1988.69, 1988.89, 1989.09, 1989.22, 1989.36, 1989.49, 1989.62, 1989.83,
           1990.03, 1990.23, 1990.43, 1990.63, 1990.76, 1990.96, 1991.17, 1991.3, 1991.43, 1991.64,
           1991.77, 1991.9, 1992.04, 1992.24, 1992.44, 1992.57, 1992.77, 1992.98, 1993.18, 1993.38,
           1993.58, 1993.78, 1993.91, 1994.11, 1994.32, 1994.52, 1994.72, 1994.92, 1995.12, 1995.32,
           1995.52, 1995.72, 1995.92, 1996.12, 1996.33, 1996.53, 1996.73, 1996.93, 1997.13, 1997.33,
           1997.53, 1997.73, 1997.93, 1998.15, 1998.35, 1998.55, 1998.68, 1998.82, 1999.02, 1999.22,
           1999.42, 1999.62, 1999.83, 1999.96, 2000.09, 2000.23, 2000.36, 2000.56, 2000.7, 2000.83,
           2001.03, 2001.23, 2001.37, 2001.5, 2001.7, 2001.83, 2002.03, 2002.24, 2002.37, 2002.5,
           2002.64, 2002.77, 2002.97, 2003.17, 2003.3, 2003.44, 2003.57, 2003.78, 2003.98, 2004.18,
           2004.38, 2004.58, 2004.78, 2004.91, 2005.05, 2005.18, 2005.31, 2005.52, 2005.72, 2005.92,
           2006.12, 2006.32, 2006.52, 2006.72, 2006.85, 2007.05, 2007.26, 2007.46, 2007.66, 2007.86,
           2008.06, 2008.27, 2008.46, 2008.66, 2008.86, 2009.06, 2009.26, 2009.46, 2009.67, 2009.87,
           2010.07, 2010.27, 2010.47, 2010.67, 2010.87, 2011.07, 2011.2, 2011.34, 2011.54, 2011.67,
           2011.81, 2011.94, 2012.14, 2012.27, 2012.41, 2012.54, 2012.74, 2012.94, 2013.15, 2013.35,
           2013.55, 2013.75, 2013.95, 2014.15, 2014.35, 2014.55, 2014.69, 2014.82, 2014.95]
c_imp_v = [5489, 5488, 5487.2, 5490.1, 5491.6, 5490.1, 5485.3, 5485.8, 5485, 5487.7,
           5486.2, 5482.8, 5482.8, 5483.8, 5482.4, 5479, 5481.8, 5484.3, 5485.3, 5483.3,
           5480.9, 5478.5, 5477, 5475.1, 5475.1, 5478.5, 5481.9, 5481, 5480.9, 5483.3,
           5483.3, 5480.4, 5476.5, 5475, 5473.6, 5476.5, 5478, 5478, 5480.9, 5483.8,
           5486.2, 5484.8, 5484.3, 5482.8, 5482.4, 5484.3, 5488.2, 5490.1, 5489.6, 5493,
           5491.1, 5492.1, 5493.5, 5495, 5486.2, 5490.1, 5490.1, 5493, 5489.6, 5487.2,
           5485.3, 5487.2, 5489.2, 5488.2, 5487.2, 5484.8, 5479.9, 5484.3, 5491.1, 5496.9,
           5497.9, 5498.4, 5494, 5496.9, 5497.9, 5493.5, 5489.6, 5487.2, 5481.4, 5485.3,
           5485.3, 5484.3, 5486.2, 5491.1, 5487.7, 5484.3, 5485.3, 5482.4, 5478, 5479.4,
           5480.9, 5479.4, 5478, 5471.2, 5474.6, 5475.6, 5472.6, 5473.6, 5482.8, 5479.4,
           5477.5, 5478.5, 5480.9, 5487.2, 5487.7, 5483.3, 5481.4, 5487.2, 5490.1, 5487.7,
           5493, 5496.9, 5497.9, 5499.4, 5497.9, 5496.9, 5498.4, 5496.4, 5498.9, 5498.4,
           5497.4, 5495.5, 5500.8, 5505.2, 5510.5, 5509.6, 5507.6, 5510, 5511.5, 5511,
           5508.6, 5510, 5511.5, 5512.5, 5513.5, 5515.9, 5512, 5510.5, 5512.5, 5513.9,
           5512.9, 5510, 5508.1, 5506.7, 5508.6, 5509.1, 5507.2, 5506.2, 5507.6, 5508.6,
           5509.6, 5507.2, 5506.2, 5505.7, 5503.7, 5504.2, 5501.3, 5498.9, 5496.4, 5494,
           5494, 5494.5, 5494, 5490.1, 5489.2, 5489.2, 5490.1, 5487.2, 5484.3, 5482.4,
           5484.3, 5486.2, 5489.6, 5492.1, 5490.1, 5487.7, 5483.8, 5484.8, 5490.1, 5488.2,
           5485.3, 5483.8, 5488.2, 5488.7, 5487.2, 5482.4, 5477, 5481.9, 5486.7, 5488.7,
           5490.1, 5490.6, 5487.2, 5484.3, 5479.9, 5478.5, 5475.1, 5479, 5481.4, 5479.4,
           5475.1, 5478.5, 5480.6, 5483.3, 5482.4, 5480.4, 5480, 5492.1, 5491.1, 5488.2,
           5486.2, 5486.7, 5485.3, 5483.3, 5486.2, 5488.7, 5485.3, 5479.9, 5479.4, 5483.8,
           5484.3, 5484.8, 5482.8, 5479.9, 5475.6, 5473.1, 5472.6, 5470.7, 5467.8, 5465.4,
           5462, 5464.4, 5464.9, 5465.4, 5465, 5461.5, 5458.6, 5460, 5459, 5458.1,
           5457.1, 5456.1, 5454.7, 5463.9, 5468.8, 5471.2, 5467.3, 5464.9, 5464.4, 5467.8,
           5473.1, 5475.1, 5474.6, 5473.1, 5474.6, 5475.6, 5474.6, 5472.1, 5467.3, 5464.9,
           5463.9, 5462.4, 5459.5, 5458.6, 5461.5, 5460.5, 5458.6, 5457.6, 5456.1, 5455.6,
           5457.1, 5459, 5461.5, 5461, 5462.9, 5465.4, 5466.3, 5465.8, 5462.9, 5465.8,
           5468.8, 5469.2, 5468.8, 5468.5, 5466.8, 5461.5, 5461, 5464.4, 5468.3, 5467.3,
           5465.4, 5466.8, 5465.8, 5464.4, 5462.4, 5459, 5456.6, 5455.2, 5454.7]

titles = ["373236113111401", "374423113053301", "374132113063601"]
letters = ["a", "b", "c"]
test_start = 1995.92
test_end = 2001.95

panels = [
    (a_train1_t, a_train1_v, a_train2_t, a_train2_v, a_test_t, a_test_v, a_imp_t, a_imp_v),
    (b_train1_t, b_train1_v, b_train2_t, b_train2_v, b_test_t, b_test_v, b_imp_t, b_imp_v),
    (c_train1_t, c_train1_v, c_train2_t, c_train2_v, c_test_t, c_test_v, c_imp_t, c_imp_v),
]

axes_boxes = [[0.0852, 0.7198, 0.9034, 0.2326],
              [0.0852, 0.3828, 0.9034, 0.2333],
              [0.0852, 0.0493, 0.9034, 0.2326]]
legend_locs = ["upper left", "lower center", "upper right"]
letter_pos = [(0.436, 0.197), (0.065, 0.64), (0.468, 0.18)]
y_steps = [10, 20, 20]

fig = plt.figure(figsize=(11.674, 9.674), dpi=300)

for i in range(3):
    tr1_t, tr1_v, tr2_t, tr2_v, te_t, te_v, im_t, im_v = panels[i]
    ax = fig.add_axes(axes_boxes[i])

    ax.plot(tr1_t, tr1_v, ls='none', marker='+', ms=11, mew=2.8, color='blue', label='Training Data')
    ax.plot(tr2_t, tr2_v, ls='none', marker='+', ms=11, mew=2.8, color='blue', label='Training Data')
    ax.plot(te_t, te_v, ls='none', marker='o', ms=5.5, color='darkorange', label='Testing Data')
    ax.plot(im_t, im_v, lw=0.9, color='blue', label='Imputed Data')

    ax.axvline(test_start, color='#a9cbe6', lw=0.8)
    ax.axvline(test_end, color='#a9cbe6', lw=0.8)

    ax.set_xlim(1957.25, 2017.75)
    ax.xaxis.set_major_locator(MultipleLocator(10))
    ax.yaxis.set_major_locator(MultipleLocator(y_steps[i]))
    ax.tick_params(labelsize=19.5, length=6.5, width=1.2, pad=6)
    for s in ax.spines.values():
        s.set_linewidth(1.2)

    ax.set_title(titles[i], fontsize=24, pad=8)
    ax.text(letter_pos[i][0], letter_pos[i][1], letters[i], transform=ax.transAxes,
            fontsize=30, fontweight='bold', ha='center', va='center')
    ax.legend(loc=legend_locs[i], fontsize=14, labelspacing=0.22, markerscale=0.85)

fig.savefig("out.png", dpi=300)
